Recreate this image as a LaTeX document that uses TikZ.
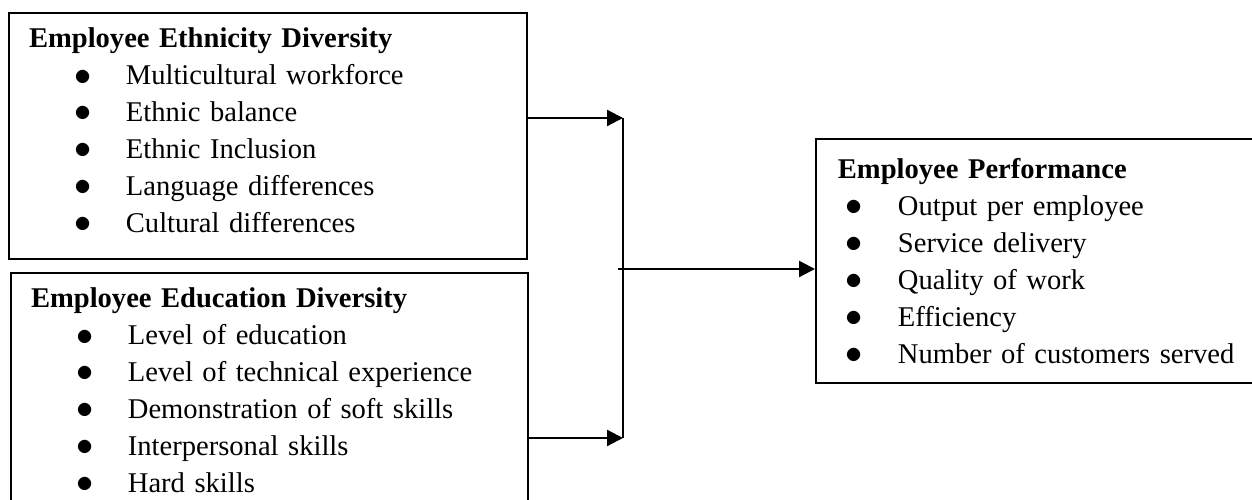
\documentclass[tikz,border=0pt]{standalone}
\usepackage{fontspec}
\setmainfont{Liberation Serif}
\usetikzlibrary{arrows.meta}
\newcommand{\bigdot}{\raisebox{-0.2pt}{\fontsize{14}{14}\selectfont$\bullet$}}
\newcommand{\litem}[1]{\hspace*{19.2pt}\makebox[21.5pt][l]{\bigdot}#1}
\newcommand{\ritem}[1]{\hspace*{3.2pt}\makebox[22pt][l]{\bigdot}#1}

\begin{document}
\begin{tikzpicture}[x=0.42pt,y=-0.42pt]
\tikzset{block/.style = {draw, line width=0.85pt, anchor=north west, align=left, inner ysep=0pt, font=\fontsize{12}{15.5}\selectfont}}
\tikzset{lblock/.style = {block, inner xsep=8.4pt, minimum height=103.3pt, execute at end node={\rule[-5pt]{0pt}{5pt}}}}
\tikzset{edge/.style = {-{Triangle[length=6.7pt,width=6.7pt]}, line width=0.95pt}}
\useasboundingbox (0,0) rectangle (1252,500);
\clip (0,0) rectangle (1252,500);
% blocks
\node[lblock, text width=200.8pt] (eth) at (8,12) {\textbf{Employee Ethnicity Diversity}\\
\litem{Multicultural workforce}\\
\litem{Ethnic balance}\\
\litem{Ethnic Inclusion}\\
\litem{Language differences}\\
\litem{Cultural differences}};
\node[lblock, text width=200.3pt] (edu) at (10,272) {\textbf{Employee Education Diversity}\\
\litem{Level of education}\\
\litem{Level of technical experience}\\
\litem{Demonstration of soft skills}\\
\litem{Interpersonal skills}\\
\litem{Hard skills}};
\node[block, inner xsep=9.2pt, text width=200pt, minimum height=102.5pt] (perf) at (815,138) {\textbf{Employee Performance}\\
\ritem{Output per employee}\\
\ritem{Service delivery}\\
\ritem{Quality of work}\\
\ritem{Efficiency}\\
\ritem{Number of customers served}};
% junction
\coordinate (j1) at (623,118);
\coordinate (j2) at (623,438);
\coordinate (jm) at (618,269);
% arrows
\draw[edge] (eth.east |- j1) -- (j1);
\draw[edge] (edu.east |- j2) -- (j2);
\draw[line width=0.8pt] (j1) -- (j2);
\draw[edge] (jm) -- (perf.west |- jm);
\end{tikzpicture}
\end{document}
